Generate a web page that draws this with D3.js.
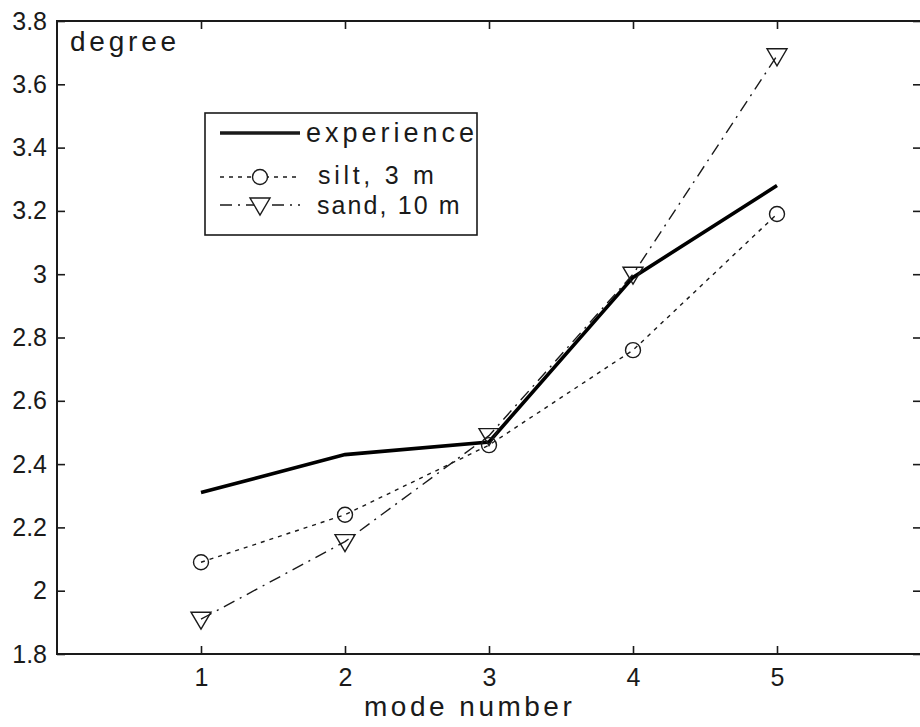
<!DOCTYPE html>
<html>
<head>
<meta charset="utf-8">
<script src="https://cdn.jsdelivr.net/npm/d3@7"></script>
<style>
  html, body { margin: 0; padding: 0; background: #fff; overflow: hidden; }
  svg { display: block; font-family: "Liberation Sans", Arial, sans-serif; }
</style>
</head>
<body>
<svg id="chart" width="920" height="727"></svg>
<script>
const modes = [1, 2, 3, 4, 5];
const experience = [2.31, 2.43, 2.47, 2.99, 3.28];
const silt = [2.09, 2.24, 2.46, 2.76, 3.19];
const sand = [1.91, 2.155, 2.49, 3.0, 3.69];
const xTicks = [1, 2, 3, 4, 5];
const yTicks = [1.8, 2, 2.2, 2.4, 2.6, 2.8, 3, 3.2, 3.4, 3.6, 3.8];
const legendLabels = ["experience", "silt, 3 m", "sand, 10 m"];
const yUnitLabel = "degree";
const xAxisLabel = "mode number";

const svg = d3.select("#chart");
const L = 57, R = 921, T = 21, B = 654;
const ink = "#1a1a1a";

const x = d3.scaleLinear().domain([0, 6]).range([L, R]);
const y = d3.scaleLinear().domain([1.8, 3.8]).range([B, T]);

function styleAxis(g, showLabels) {
  g.select(".domain").remove();
  g.selectAll(".tick line").attr("stroke", ink).attr("stroke-width", 1.6);
  g.selectAll(".tick text").attr("fill", ink)
    .style("font-size", showLabels ? "25px" : "0px")
    .style("font-family", "'Liberation Sans', Arial, sans-serif");
}
const fmtY = d => (d === 2 || d === 3) ? String(d) : d3.format(".1f")(d);

svg.append("g").attr("transform", `translate(0,${B})`)
  .call(d3.axisBottom(x).tickValues(xTicks).tickSize(-8).tickPadding(14).tickFormat(d3.format("d")))
  .call(g => styleAxis(g, true));
svg.append("g").attr("transform", `translate(0,${T})`)
  .call(d3.axisTop(x).tickValues(xTicks).tickSize(-8).tickFormat(""))
  .call(g => styleAxis(g, false));
svg.append("g").attr("transform", `translate(${L},0)`)
  .call(d3.axisLeft(y).tickValues(yTicks).tickSize(-8).tickPadding(10).tickFormat(fmtY))
  .call(g => styleAxis(g, true));
svg.append("g").attr("transform", `translate(${R},0)`)
  .call(d3.axisRight(y).tickValues(yTicks).tickSize(-8).tickFormat(""))
  .call(g => styleAxis(g, false));

svg.append("rect").attr("x", L).attr("y", T).attr("width", R - L).attr("height", B - T)
  .attr("fill", "none").attr("stroke", ink).attr("stroke-width", 2);

const line = d3.line().x((d, i) => x(modes[i])).y(d => y(d));
svg.append("path").datum(silt).attr("d", line)
  .attr("fill", "none").attr("stroke", ink).attr("stroke-width", 1.4).attr("stroke-dasharray", "4,5");
svg.append("path").datum(sand).attr("d", line)
  .attr("fill", "none").attr("stroke", ink).attr("stroke-width", 1.4).attr("stroke-dasharray", "12,6,2,6");
svg.append("path").datum(experience).attr("d", line)
  .attr("fill", "none").attr("stroke", "#000").attr("stroke-width", 3.6);

const tri = (cx, cy) => `M${cx - 10},${cy - 7}L${cx + 10},${cy - 7}L${cx},${cy + 10}Z`;
svg.append("g").selectAll("circle").data(silt).join("circle")
  .attr("cx", (d, i) => x(modes[i])).attr("cy", d => y(d)).attr("r", 7.5)
  .attr("fill", "none").attr("stroke", ink).attr("stroke-width", 1.4);
svg.append("g").selectAll("path").data(sand).join("path")
  .attr("d", (d, i) => tri(x(modes[i]), y(d)))
  .attr("fill", "none").attr("stroke", ink).attr("stroke-width", 1.4);

svg.append("text").attr("x", 70).attr("y", 51).text(yUnitLabel)
  .attr("fill", ink).style("font-size", "28px").style("letter-spacing", "3.8px");
svg.append("text").attr("x", 364).attr("y", 716).text(xAxisLabel)
  .attr("fill", ink).style("font-size", "28px").style("letter-spacing", "3.5px");

const lg = svg.append("g");
lg.append("rect").attr("x", 205).attr("y", 113).attr("width", 272).attr("height", 122)
  .attr("fill", "#fff").attr("stroke", ink).attr("stroke-width", 1.6);
const rowsY = [133, 177, 205];
const baseY = [142, 184, 214];
const textX = [306, 318, 317];
const sizes = ["27px", "25px", "25px"];
const spacing = ["4px", "3.7px", "2.1px"];
const dash = [null, "4,5", "12,6,2,6"];
const widths = [3.6, 1.4, 1.4];
legendLabels.forEach((lab, i) => {
  lg.append("line").attr("x1", 220).attr("x2", 300).attr("y1", rowsY[i]).attr("y2", rowsY[i])
    .attr("stroke", ink).attr("stroke-width", widths[i]).attr("stroke-dasharray", dash[i]);
  lg.append("text").attr("x", textX[i]).attr("y", baseY[i]).text(lab)
    .attr("fill", ink).style("font-size", sizes[i]).style("letter-spacing", spacing[i]);
});
lg.append("circle").attr("cx", 260).attr("cy", rowsY[1]).attr("r", 7.5)
  .attr("fill", "#fff").attr("stroke", ink).attr("stroke-width", 1.4);
lg.append("path").attr("d", tri(260, rowsY[2]))
  .attr("fill", "#fff").attr("stroke", ink).attr("stroke-width", 1.4);
</script>
</body>
</html>
